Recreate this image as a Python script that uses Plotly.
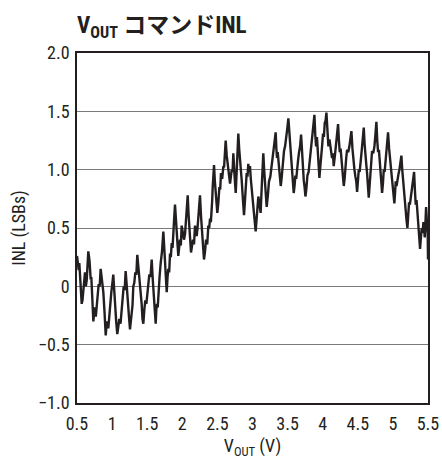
import plotly.graph_objects as go

vout = [0.500, 0.512, 0.524, 0.533, 0.543, 0.555, 0.567, 0.578, 0.590, 0.602, 0.614, 0.626, 0.638, 0.650, 0.661,
        0.678, 0.695, 0.704, 0.714, 0.724, 0.733, 0.745, 0.756, 0.768, 0.780, 0.795, 0.809, 0.823, 0.837, 0.856,
        0.875, 0.892, 0.909, 0.920, 0.932, 0.946, 0.961, 0.975, 0.989, 1.003, 1.017, 1.029, 1.041, 1.058, 1.074,
        1.088, 1.103, 1.120, 1.136, 1.150, 1.165, 1.179, 1.193, 1.207, 1.221, 1.238, 1.255, 1.267, 1.279, 1.291,
        1.302, 1.316, 1.331, 1.345, 1.359, 1.378, 1.397, 1.409, 1.421, 1.433, 1.445, 1.459, 1.473, 1.488, 1.502,
        1.516, 1.530, 1.547, 1.564, 1.580, 1.597, 1.609, 1.621, 1.630, 1.640, 1.650, 1.659, 1.676, 1.692, 1.711,
        1.730, 1.742, 1.754, 1.766, 1.778, 1.790, 1.801, 1.813, 1.825, 1.837, 1.849, 1.861, 1.872, 1.884, 1.896,
        1.908, 1.920, 1.932, 1.943, 1.955, 1.967, 1.979, 1.991, 2.008, 2.024, 2.039, 2.053, 2.065, 2.077, 2.089,
        2.100, 2.112, 2.124, 2.139, 2.153, 2.167, 2.181, 2.193, 2.205, 2.217, 2.228, 2.240, 2.252, 2.267, 2.281,
        2.295, 2.309, 2.324, 2.338, 2.355, 2.371, 2.383, 2.395, 2.407, 2.418, 2.426, 2.433, 2.443, 2.452, 2.464,
        2.476, 2.488, 2.499, 2.514, 2.528, 2.540, 2.551, 2.568, 2.585, 2.595, 2.604, 2.611, 2.618, 2.633, 2.647,
        2.664, 2.680, 2.692, 2.704, 2.716, 2.727, 2.744, 2.761, 2.770, 2.779, 2.789, 2.798, 2.810, 2.822, 2.834,
        2.846, 2.863, 2.879, 2.889, 2.898, 2.908, 2.917, 2.929, 2.940, 2.952, 2.964, 2.976, 2.988, 3.000, 3.011,
        3.028, 3.045, 3.055, 3.064, 3.074, 3.083, 3.100, 3.116, 3.126, 3.135, 3.145, 3.154, 3.166, 3.178, 3.190,
        3.202, 3.219, 3.235, 3.254, 3.273, 3.288, 3.302, 3.316, 3.330, 3.340, 3.349, 3.359, 3.368, 3.385, 3.402,
        3.414, 3.425, 3.437, 3.449, 3.464, 3.478, 3.495, 3.511, 3.528, 3.545, 3.555, 3.564, 3.576, 3.587, 3.599,
        3.611, 3.623, 3.635, 3.649, 3.663, 3.678, 3.692, 3.702, 3.711, 3.721, 3.730, 3.742, 3.754, 3.768, 3.782,
        3.799, 3.815, 3.832, 3.849, 3.866, 3.882, 3.894, 3.906, 3.918, 3.929, 3.941, 3.953, 3.965, 3.977, 3.991,
        4.005, 4.017, 4.029, 4.041, 4.053, 4.067, 4.081, 4.096, 4.110, 4.122, 4.133, 4.145, 4.157, 4.174, 4.191,
        4.205, 4.219, 4.231, 4.243, 4.255, 4.266, 4.283, 4.300, 4.312, 4.323, 4.335, 4.347, 4.364, 4.380, 4.395,
        4.409, 4.424, 4.438, 4.452, 4.466, 4.478, 4.490, 4.502, 4.514, 4.526, 4.537, 4.549, 4.561, 4.573, 4.585,
        4.597, 4.608, 4.620, 4.632, 4.644, 4.656, 4.668, 4.680, 4.692, 4.703, 4.720, 4.737, 4.751, 4.765, 4.777,
        4.789, 4.801, 4.812, 4.829, 4.846, 4.858, 4.870, 4.882, 4.893, 4.905, 4.917, 4.924, 4.931, 4.946, 4.960,
        4.974, 4.988, 5.005, 5.021, 5.031, 5.040, 5.052, 5.064, 5.079, 5.093, 5.107, 5.121, 5.133, 5.145, 5.152,
        5.159, 5.171, 5.183, 5.195, 5.207, 5.219, 5.230, 5.242, 5.254, 5.266, 5.278, 5.290, 5.302, 5.314, 5.325,
        5.337, 5.349, 5.359, 5.368, 5.378, 5.387, 5.399, 5.411, 5.423, 5.435, 5.445, 5.454, 5.464, 5.473, 5.485,
        5.496, 5.500]

inl = [0.26, 0.18, 0.14, 0.20, 0.06, -0.02, -0.15, -0.12, -0.05, 0.02, 0.12, 0.00, 0.05, 0.18, 0.30,
       0.22, 0.06, 0.08, -0.12, -0.20, -0.30, -0.22, -0.18, -0.26, -0.17, -0.06, 0.02, 0.00, 0.15, 0.05,
       -0.05, -0.22, -0.42, -0.34, -0.30, -0.36, -0.25, -0.10, -0.05, 0.02, 0.10, -0.02, -0.17, -0.30, -0.41,
       -0.36, -0.28, -0.32, -0.22, -0.10, 0.00, -0.03, 0.13, 0.02, -0.14, -0.24, -0.37, -0.30, -0.20, -0.16,
       0.00, 0.03, 0.12, 0.10, 0.27, 0.14, 0.06, -0.08, -0.15, -0.28, -0.32, -0.20, -0.12, -0.15, -0.05,
       0.04, 0.10, 0.08, 0.23, 0.05, -0.11, -0.22, -0.32, -0.20, -0.15, -0.18, -0.05, 0.08, 0.20, 0.30,
       0.47, 0.32, 0.20, 0.05, -0.05, 0.08, 0.15, 0.12, 0.28, 0.25, 0.37, 0.33, 0.50, 0.58, 0.70,
       0.55, 0.45, 0.36, 0.26, 0.33, 0.40, 0.35, 0.52, 0.46, 0.40, 0.45, 0.60, 0.66, 0.78, 0.62,
       0.50, 0.40, 0.29, 0.35, 0.40, 0.36, 0.52, 0.48, 0.43, 0.50, 0.60, 0.66, 0.78, 0.60, 0.45,
       0.36, 0.23, 0.30, 0.40, 0.36, 0.52, 0.50, 0.58, 0.55, 0.63, 0.74, 0.85, 0.92, 1.04, 0.90,
       0.80, 0.70, 0.63, 0.72, 0.85, 0.83, 0.97, 0.92, 1.03, 1.02, 1.15, 1.18, 1.25, 1.12, 1.05,
       0.95, 0.88, 0.94, 1.00, 0.98, 1.14, 0.95, 0.80, 0.92, 1.05, 1.16, 1.31, 1.18, 1.10, 0.98,
       0.91, 0.75, 0.61, 0.70, 0.80, 0.85, 0.97, 0.94, 1.05, 0.98, 1.03, 0.92, 0.85, 0.80, 0.74,
       0.58, 0.47, 0.55, 0.62, 0.66, 0.77, 0.70, 0.63, 0.78, 0.90, 1.00, 1.14, 1.00, 0.88, 0.80,
       0.68, 0.78, 0.90, 0.94, 1.04, 1.10, 1.20, 1.22, 1.32, 1.18, 1.10, 1.15, 1.08, 0.95, 0.86,
       0.92, 1.00, 1.05, 1.16, 1.20, 1.30, 1.35, 1.44, 1.28, 1.14, 1.05, 0.98, 0.88, 0.80, 0.86,
       0.95, 0.92, 1.03, 1.08, 1.15, 1.20, 1.30, 1.18, 1.05, 0.98, 0.91, 0.85, 0.77, 0.84, 0.95,
       0.98, 1.08, 1.18, 1.30, 1.35, 1.47, 1.30, 1.20, 1.28, 1.19, 1.05, 0.93, 1.02, 1.15, 1.20,
       1.31, 1.28, 1.40, 1.42, 1.49, 1.32, 1.20, 1.26, 1.19, 1.12, 1.10, 1.14, 1.03, 1.12, 1.25,
       1.30, 1.39, 1.25, 1.15, 1.18, 1.08, 0.95, 0.86, 0.92, 1.05, 1.10, 1.17, 1.15, 1.20, 1.25,
       1.33, 1.18, 1.05, 1.00, 0.94, 0.90, 0.81, 0.88, 1.00, 0.98, 1.08, 1.12, 1.20, 1.26, 1.36,
       1.22, 1.10, 1.05, 0.97, 0.88, 0.76, 0.86, 1.00, 1.05, 1.16, 1.14, 1.20, 1.30, 1.41, 1.25,
       1.15, 1.17, 1.09, 0.92, 0.80, 0.88, 1.00, 0.98, 1.06, 1.12, 1.20, 1.26, 1.32, 1.18, 1.08,
       1.02, 0.94, 0.82, 0.71, 0.80, 0.90, 0.86, 0.92, 0.96, 1.00, 1.06, 1.12, 1.00, 0.90, 0.86,
       0.83, 0.72, 0.65, 0.56, 0.50, 0.62, 0.72, 0.70, 0.75, 0.80, 0.85, 0.92, 0.98, 0.82, 0.70,
       0.74, 0.65, 0.55, 0.45, 0.38, 0.32, 0.42, 0.50, 0.46, 0.55, 0.48, 0.42, 0.55, 0.68, 0.55,
       0.45, 0.23]

x_ticks = [0.5, 1, 1.5, 2, 2.5, 3, 3.5, 4, 4.5, 5, 5.5]
x_tick_labels = ["0.5", "1", "1.5", "2", "2.5", "3", "3.5", "4", "4.5", "5", "5.5"]
y_ticks = [-1.0, -0.5, 0, 0.5, 1.0, 1.5, 2.0]
y_tick_labels = ["\u22121.0", "\u22120.5", "0", "0.5", "1.0", "1.5", "2.0"]

FONT = "Liberation Sans Narrow, Roboto Condensed, DejaVu Sans Condensed, Arial Narrow, sans-serif"

fig = go.Figure()
fig.add_trace(go.Scatter(x=vout, y=inl, mode="lines",
                         line=dict(color="#231f20", width=2.4), showlegend=False))

fig.update_layout(
    width=442, height=459,
    margin=dict(l=77, r=14, t=53, b=56, autoexpand=False),
    paper_bgcolor="white", plot_bgcolor="white",
    font=dict(family=FONT, size=18, color="#231f20"),
    title=dict(text="<b>V<sub>OUT</sub> コマンドINL</b>",
               font=dict(family=FONT + ", Noto Sans CJK JP", size=23, color="#231f20"),
               x=77/442, xanchor="left", xref="container",
               y=1 - 25/459, yanchor="middle", yref="container"),
)
fig.update_xaxes(range=[0.5, 5.5], tickmode="array", tickvals=x_ticks, ticktext=x_tick_labels,
                 showgrid=False, zeroline=False, showline=True, mirror=True, automargin=False,
                 linecolor="#231f20", linewidth=1.5, ticks="", ticklabelstandoff=4,
                 title=dict(text="V<sub>OUT</sub> (V)", standoff=8, font=dict(size=18)))
fig.update_yaxes(range=[-1.0, 2.0], tickmode="array", tickvals=y_ticks, ticktext=y_tick_labels,
                 showgrid=True, gridcolor="#7a7a7a", gridwidth=1, zeroline=False, automargin=False,
                 showline=True, mirror=True, linecolor="#231f20", linewidth=1.5, ticks="",
                 ticklabelstandoff=2,
                 title=dict(text="INL (LSBs)", standoff=8, font=dict(size=18)))

fig.write_html("out.html")
